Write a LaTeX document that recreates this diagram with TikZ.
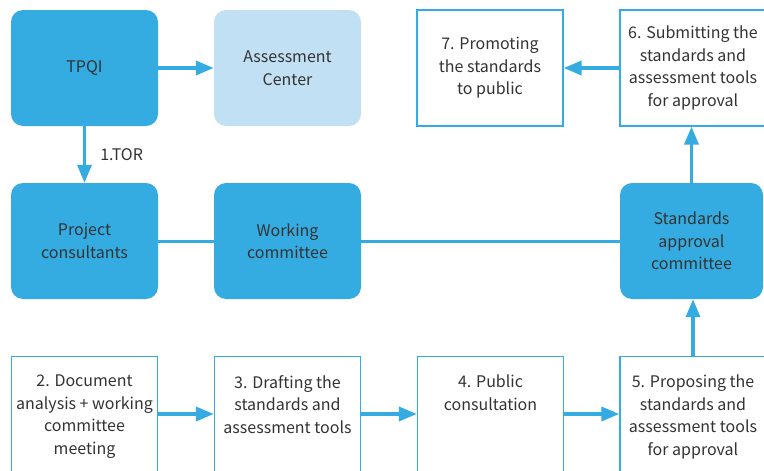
\documentclass[tikz,border=0pt]{standalone}
\usepackage{fontspec}
\setmainfont{Noto Sans CJK KR}
\usetikzlibrary{arrows.meta}
\definecolor{bl}{HTML}{35ACE1}
\definecolor{lbl}{HTML}{C2E0F4}
\definecolor{tx}{HTML}{333333}
\tikzset{
  fillbox/.style={rectangle, rounded corners=12pt, fill=bl, minimum width=147pt, minimum height=116pt, inner sep=0pt, align=center, text=tx, font=\fontsize{16}{22.5}\selectfont},
  lightbox/.style={fillbox, fill=lbl},
  outbox/.style={rectangle, draw=bl, line width=1.3pt, fill=white, minimum width=146pt, minimum height=116pt, inner sep=0pt, align=center, text=tx, font=\fontsize{16}{22.5}\selectfont},
  lowbox/.style={rectangle, draw=bl, line width=1.3pt, fill=white, minimum width=146pt, minimum height=140pt, inner sep=0pt},
  lowtext/.style={anchor=north, align=center, text=tx, font=\fontsize{16}{22.5}\selectfont, inner sep=0pt},
  arr/.style={draw=bl, line width=3.5pt, -{Triangle[length=18pt,width=14pt]}},
  conn/.style={draw=bl, line width=3pt},
}
\begin{document}
\begin{tikzpicture}[x=1pt,y=-1pt]
\useasboundingbox (0,0) rectangle (764,471);
\clip (0,0) rectangle (764,471);
\fill[white] (0,0) rectangle (764,471);
\node[fillbox] (tpqi) at (84.5,68) {TPQI};
\node[lightbox] (ac) at (287.5,68) {Assessment\\Center};
\node[fillbox] (pc) at (84.5,241) {Project\\consultants};
\node[fillbox] (wc) at (287.5,241) {Working\\committee};
\node[fillbox, minimum width=143pt] (sac) at (691.5,241) {Standards\\approval\\committee};
\node[outbox] (s7) at (490,68) {7. Promoting\\the standards\\to public};
\node[outbox] (s6) at (693,68) {6. Submitting the\\standards and\\assessment tools\\for approval};
\node[lowbox, anchor=north] (s2) at (84.5,356) {};
\node[lowbox, anchor=north] (s3) at (287.5,356) {};
\node[lowbox, anchor=north] (s4) at (490.5,356) {};
\node[lowbox, anchor=north] (s5) at (693,356) {};
\node[lowtext] (t2) at ([yshift=-19pt]s2.north) {2. Document\\analysis + working\\committee\\meeting};
\node[lowtext] (t3) at ([yshift=-19pt]s3.north) {3. Drafting the\\standards and\\assessment tools};
\node[lowtext] (t4) at ([yshift=-19pt]s4.north) {4. Public\\consultation};
\node[lowtext] (t5) at ([yshift=-19pt]s5.north) {5. Proposing the\\standards and\\assessment tools\\for approval};
% connectors
\draw[arr] (tpqi.east) -- (ac.west);
\draw[arr] (tpqi.south) -- node[right=14pt, text=tx, font=\fontsize{16}{22}\selectfont, inner sep=0pt] (tor) {1.TOR} (pc.north);
\draw[conn] (pc.east) -- (wc.west);
\draw[conn] (wc.east) -- (sac.west);
\draw[arr] (sac.north) -- (sac.north |- s6.south);
\draw[arr] (s6.west) -- (s7.east);
\draw[arr] (s5.north) -- (s5.north |- sac.south);
\draw[arr] (s2.east |- 0,414) -- (s3.west |- 0,414);
\draw[arr] (s3.east |- 0,414) -- (s4.west |- 0,414);
\draw[arr] (s4.east |- 0,414) -- (s5.west |- 0,414);
\end{tikzpicture}
\end{document}
